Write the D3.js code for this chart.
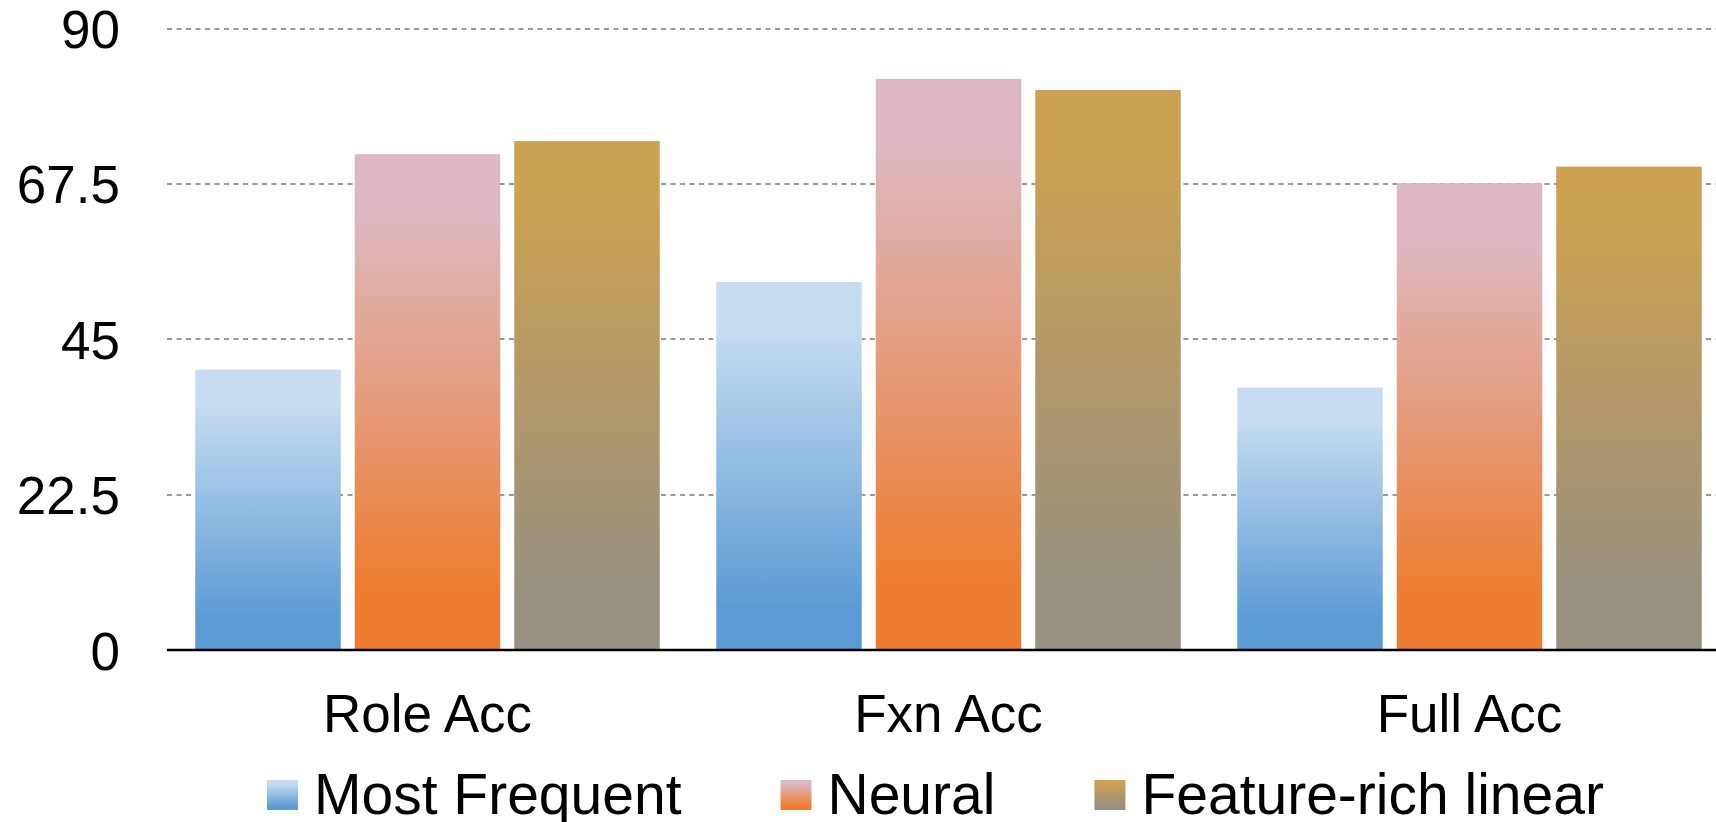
<!DOCTYPE html>
<html>
<head>
<meta charset="utf-8">
<script src="https://cdn.jsdelivr.net/npm/d3@7"></script>
<style>
  html, body { margin: 0; padding: 0; background: #fff; }
  svg { display: block; font-family: "Liberation Sans", Arial, sans-serif; }
</style>
</head>
<body>
<svg id="chart" width="1716" height="822"></svg>
<script>
// Accuracy by task, one bar per model
const categories = ["Role Acc", "Fxn Acc", "Full Acc"];
const seriesNames = ["Most Frequent", "Neural", "Feature-rich linear"];
const mostFrequent = [40.6, 53.3, 38.0];
const neural = [71.8, 82.7, 67.6];
const featureRich = [73.7, 81.1, 70.0];
const yTicks = [0, 22.5, 45, 67.5, 90];

// top / bottom colours of each series' vertical gradient
const seriesColors = [
  { top: "#c7dcf0", bottom: "#5b9bd5" },
  { top: "#ddb8c2", bottom: "#ed7d31" },
  { top: "#cca152", bottom: "#979080" }
];

const seriesValues = [mostFrequent, neural, featureRich];

const svg = d3.select("#chart");
const W = 1716;
const plot = { left: 167, right: 1730, top: 28.5, bottom: 650 };

const x0 = d3.scaleBand().domain(categories).range([plot.left, plot.right]).padding(0);
const groupPad = 28.25;
const x1 = d3.scaleBand().domain(seriesNames)
  .range([groupPad, x0.bandwidth() - groupPad])
  .paddingInner(0.0878).paddingOuter(0);
const y = d3.scaleLinear().domain([0, 90]).range([plot.bottom, plot.top]);

// gradients
const defs = svg.append("defs");
seriesNames.forEach((name, i) => {
  const g = defs.append("linearGradient")
    .attr("id", "grad" + i)
    .attr("x1", 0).attr("y1", 0).attr("x2", 0).attr("y2", 1);
  g.append("stop").attr("offset", "0").attr("stop-color", seriesColors[i].top);
  g.append("stop").attr("offset", "0.12").attr("stop-color", seriesColors[i].top);
  g.append("stop").attr("offset", "0.88").attr("stop-color", seriesColors[i].bottom);
  g.append("stop").attr("offset", "1").attr("stop-color", seriesColors[i].bottom);
});

// dashed gridlines
svg.append("g").selectAll("line")
  .data(yTicks.filter(t => t > 0))
  .join("line")
  .attr("x1", plot.left).attr("x2", W)
  .attr("y1", d => Math.round(y(d))).attr("y2", d => Math.round(y(d)))
  .attr("stroke", "#999")
  .attr("stroke-width", 2)
  .attr("stroke-dasharray", "5,4.5");

// bars
const rows = categories.map((c, ci) => ({
  category: c,
  values: seriesNames.map((s, si) => ({ series: s, si, value: seriesValues[si][ci] }))
}));

svg.append("g").selectAll("g")
  .data(rows)
  .join("g")
  .attr("transform", d => `translate(${x0(d.category)},0)`)
  .selectAll("rect")
  .data(d => d.values)
  .join("rect")
  .attr("x", d => x1(d.series))
  .attr("width", x1.bandwidth())
  .attr("y", d => y(d.value))
  .attr("height", d => y(0) - y(d.value))
  .attr("fill", d => `url(#grad${d.si})`);

// baseline
svg.append("line")
  .attr("x1", plot.left).attr("x2", W)
  .attr("y1", y(0)).attr("y2", y(0))
  .attr("stroke", "#000")
  .attr("stroke-width", 2.5);

// y axis labels
const yAxis = svg.append("g")
  .attr("transform", "translate(120,0)")
  .call(d3.axisLeft(y).tickValues(yTicks).tickSize(0).tickPadding(0)
    .tickFormat(d => String(d)));
yAxis.select(".domain").remove();
yAxis.selectAll("text")
  .attr("x", 0)
  .attr("dy", "0.36em")
  .attr("fill", "#000")
  .style("font-size", "53px")
  .style("font-family", "'Liberation Sans', Arial, sans-serif");

// category labels
const xAxis = svg.append("g")
  .attr("transform", `translate(0,${y(0)})`)
  .call(d3.axisBottom(x0).tickSize(0).tickPadding(0));
xAxis.select(".domain").remove();
xAxis.selectAll("text")
  .attr("y", 0)
  .attr("dy", 0)
  .attr("transform", "translate(0,82)")
  .attr("fill", "#000")
  .style("font-size", "53px")
  .style("font-family", "'Liberation Sans', Arial, sans-serif");

// legend
const legend = svg.append("g");
let lx = 267;
const swatch = 31, textGap = 16, itemGap = 99, legendBase = 814;
seriesNames.forEach((name, i) => {
  legend.append("rect")
    .attr("x", lx).attr("y", 780)
    .attr("width", swatch).attr("height", 30)
    .attr("fill", `url(#grad${i})`);
  const t = legend.append("text")
    .attr("x", lx + swatch + textGap)
    .attr("y", legendBase)
    .attr("fill", "#000")
    .style("font-size", "57px")
    .text(name);
  lx += swatch + textGap + t.node().getComputedTextLength() + itemGap;
});
</script>
</body>
</html>
